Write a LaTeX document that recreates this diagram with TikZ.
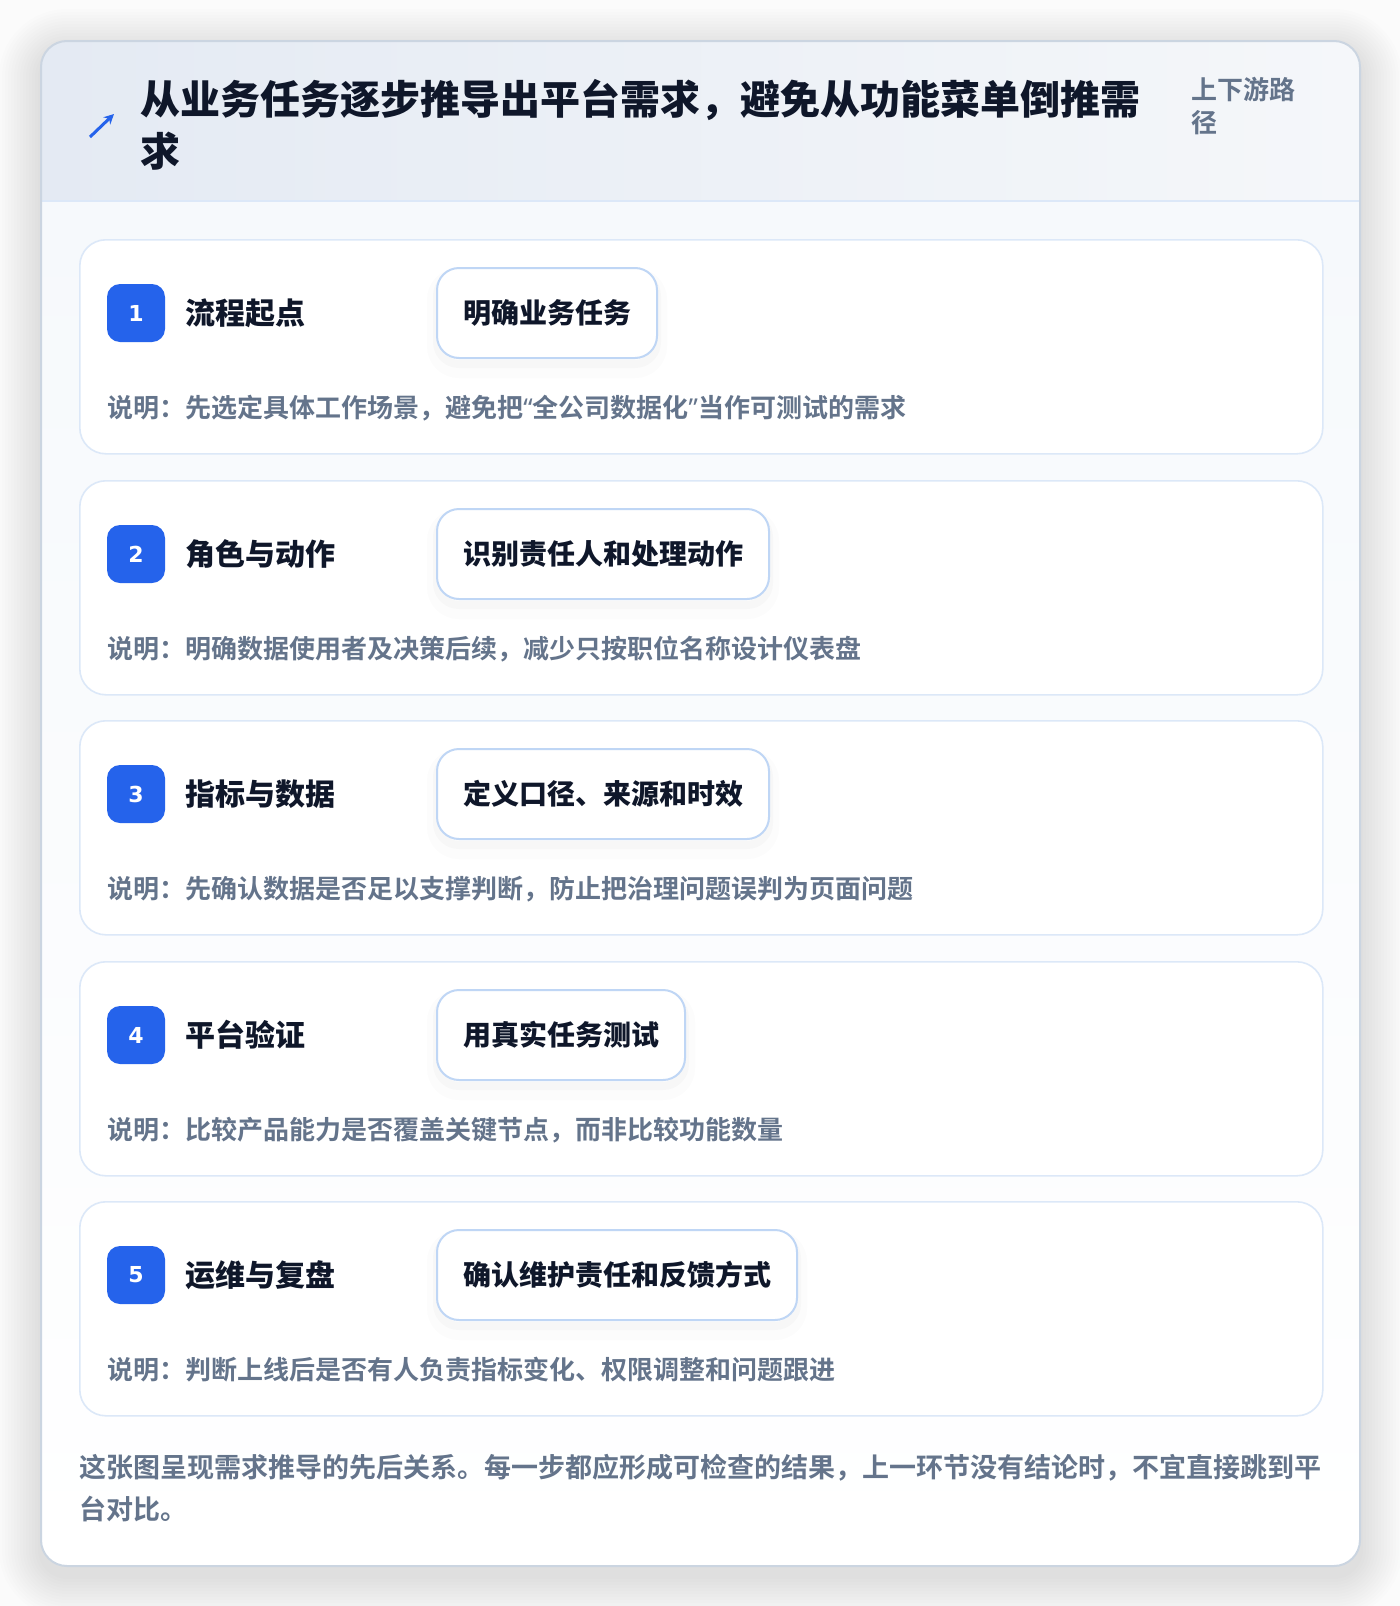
\documentclass[tikz,border=0pt]{standalone}
\usepackage{fontspec}
\setmainfont{Noto Sans CJK SC}[BoldFont={Noto Sans CJK SC Bold}]
\newfontfamily\heavycjk{Noto Sans CJK SC Black}
\newfontfamily\latinsans{Noto Sans}
\newfontfamily\digitfont{DejaVu Sans Bold}
\usetikzlibrary{positioning,arrows.meta}
\definecolor{inkdark}{HTML}{0F172A}
\definecolor{inkgray}{HTML}{64748B}
\definecolor{badgeblue}{HTML}{2563EB}
\definecolor{cardline}{HTML}{DCE8F8}
\definecolor{pillline}{HTML}{BFD6F5}
\definecolor{outerline}{HTML}{CBD5E1}
\definecolor{hdleft}{HTML}{E4EAF3}
\definecolor{hdright}{HTML}{F5F7FA}
\definecolor{bodytop}{HTML}{F6F9FC}
\tikzstyle{stepcard} = [draw=cardline,line width=0.8pt,rounded corners=13pt,fill=white,minimum width=621.5pt,minimum height=107pt,inner sep=0]
\tikzstyle{badge} = [fill=badgeblue,rounded corners=6.5pt,minimum size=29pt,inner sep=0,text=white,font=\fontsize{11pt}{13pt}\selectfont\digitfont]
\tikzstyle{steplabel} = [inner sep=0,text=inkdark,font=\fontsize{15pt}{18pt}\selectfont\heavycjk]
\tikzstyle{pill} = [draw=pillline,line width=1pt,fill=white,rounded corners=11pt,minimum height=45pt,inner xsep=13pt,text=inkdark,font=\fontsize{14pt}{17pt}\selectfont\heavycjk,
  preaction={draw=black!60,draw opacity=0.02,transform canvas={yshift=-5pt},line width=10pt},
  preaction={draw=black!60,draw opacity=0.03,transform canvas={yshift=-3pt},line width=4pt}]
\tikzstyle{desc} = [inner sep=0,text=inkgray,font=\fontsize{13pt}{16pt}\selectfont\bfseries]
\tikzstyle{note} = [inner sep=0,text=inkgray,font=\fontsize{13.5pt}{16pt}\selectfont\bfseries]

\begin{document}
\begin{tikzpicture}[x=0.5pt,y=-0.5pt]
      \useasboundingbox (0,0) rectangle (1400,1606);
      \fill[white!98.5!black] (0,0) rectangle (1400,1606);
      % soft shadow under the outer card
      \foreach \g in {1,...,14}
        \fill[black!70,opacity=0.009,rounded corners=13pt+\g*1.5pt] (41-\g*3,41-\g*3+10) rectangle (1360+\g*3,1566+\g*3+10);
      \fill[white,rounded corners=13pt] (41,41) rectangle (1360,1566);
      \begin{scope}
        \clip[rounded corners=13pt] (41,41) rectangle (1360,1566);
        \shade[top color=bodytop,bottom color=white] (41,201) rectangle (1360,1566);
        \shade[left color=hdleft,right color=hdright] (41,41) rectangle (1360,201);
        \draw[cardline,line width=1pt] (41,201) -- (1360,201);
      \end{scope}
      \draw[outerline,line width=1pt,rounded corners=13pt] (41,41) rectangle (1360,1566);
      % header
      \coordinate (arrowfrom) at (90,137);
      \coordinate (arrowto) at (114,114);
      \draw[badgeblue,line width=1.5pt,-{Stealth[length=5pt,width=5pt]}] (arrowfrom) -- (arrowto);
      \node[anchor=west,inner sep=0,text=inkdark,font=\fontsize{20pt}{24pt}\selectfont\heavycjk] (title1) at (140,100) {从业务任务逐步推导出平台需求，避免从功能菜单倒推需};
      \node[anchor=west,inner sep=0,text=inkdark,font=\fontsize{20pt}{24pt}\selectfont\heavycjk] (title2) at (140,151) {求};
      \node[anchor=west,inner sep=0,text=inkgray,font=\fontsize{13pt}{16pt}\selectfont\bfseries] (tag1) at (1191,90) {上下游路};
      \node[anchor=west,inner sep=0,text=inkgray,font=\fontsize{13pt}{16pt}\selectfont\bfseries] (tag2) at (1191,123) {径};
      % step 1
      \node[stepcard,anchor=north west] (card1) at (79,239) {};
      \node[badge] (n1) at (136,313) {1};
      \node[steplabel,right=10pt of n1] (s1) {流程起点};
      \node[pill,anchor=west] (t1) at (436,313) {明确业务任务};
      \node[desc,anchor=west] (d1) at (107,408) {说明：先选定具体工作场景，避免把{\latinsans\bfseries “}全公司数据化{\latinsans\bfseries ”}当作可测试的需求};
      % step 2
      \node[stepcard,anchor=north west] (card2) at (79,480) {};
      \node[badge] (n2) at (136,554) {2};
      \node[steplabel,right=10pt of n2] (s2) {角色与动作};
      \node[pill,anchor=west] (t2) at (436,554) {识别责任人和处理动作};
      \node[desc,anchor=west] (d2) at (107,649) {说明：明确数据使用者及决策后续，减少只按职位名称设计仪表盘};
      % step 3
      \node[stepcard,anchor=north west] (card3) at (79,720) {};
      \node[badge] (n3) at (136,794) {3};
      \node[steplabel,right=10pt of n3] (s3) {指标与数据};
      \node[pill,anchor=west] (t3) at (436,794) {定义口径、来源和时效};
      \node[desc,anchor=west] (d3) at (107,889) {说明：先确认数据是否足以支撑判断，防止把治理问题误判为页面问题};
      % step 4
      \node[stepcard,anchor=north west] (card4) at (79,961) {};
      \node[badge] (n4) at (136,1035) {4};
      \node[steplabel,right=10pt of n4] (s4) {平台验证};
      \node[pill,anchor=west] (t4) at (436,1035) {用真实任务测试};
      \node[desc,anchor=west] (d4) at (107,1130) {说明：比较产品能力是否覆盖关键节点，而非比较功能数量};
      % step 5
      \node[stepcard,anchor=north west] (card5) at (79,1201) {};
      \node[badge] (n5) at (136,1275) {5};
      \node[steplabel,right=10pt of n5] (s5) {运维与复盘};
      \node[pill,anchor=west] (t5) at (436,1275) {确认维护责任和反馈方式};
      \node[desc,anchor=west] (d5) at (107,1370) {说明：判断上线后是否有人负责指标变化、权限调整和问题跟进};
      % closing note
      \node[note,anchor=west] (foot1) at (79,1468) {这张图呈现需求推导的先后关系。每一步都应形成可检查的结果，上一环节没有结论时，不宜直接跳到平};
      \node[note,anchor=west] (foot2) at (79,1509) {台对比。};
    \end{tikzpicture}
\end{document}
